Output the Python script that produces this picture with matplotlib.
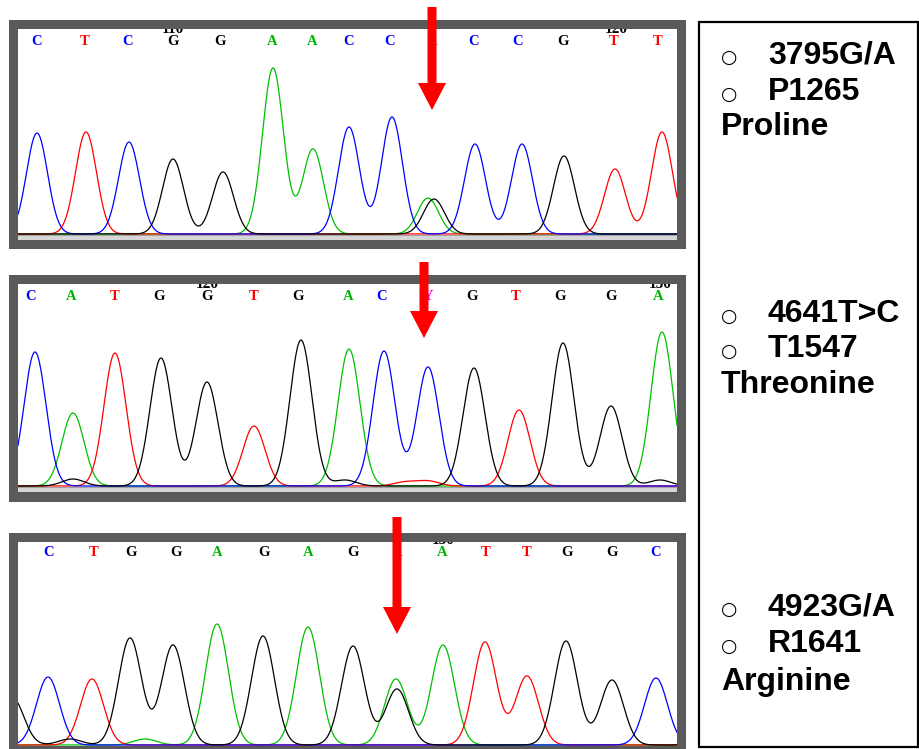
import numpy as np
import matplotlib
matplotlib.use("Agg")
import matplotlib.pyplot as plt
from matplotlib.patches import Rectangle, Polygon

W, H = 920, 749

# ---------------- data ----------------
# panel 1
p1_bases = list("CTCGGAACCRCCGTT")
p1_base_x = [37, 85, 128, 173, 220, 272, 312, 349, 390, 432, 474, 518, 563, 614, 658]
p1_peak_x = [37, 86, 129, 173, 223, 273, 313, 349, 392, 428, 434, 475, 522, 564, 615, 662]
p1_peak_h = [101, 102, 92, 75, 62, 166, 85, 107, 117, 36, 35, 90, 90, 78, 65, 102]
p1_peak_ch = list("CTCGGAACCAGCCGTT")
p1_ticks = ["110", "120"]
p1_tick_x = [173, 616]

# panel 2
p2_bases = list("CATGGTGACYGTGGA")
p2_base_x = [31, 71, 115, 159, 207, 254, 298, 348, 382, 428, 472, 516, 560, 611, 658]
p2_peak_x = [35, 73, 115, 161, 207, 254, 301, 349, 384, 428, 474, 519, 563, 611, 662,
             73, 345, 405, 428, 660]
p2_peak_h = [134, 73, 133, 128, 104, 60, 146, 137, 135, 119, 118, 76, 143, 80, 154,
             7, 6, 4, 5, 6]
p2_peak_ch = list("CATGGTGACCGTGGA" + "GGTTG")
p2_ticks = ["120", "130"]
p2_tick_x = [207, 660]

# panel 3
p3_bases = list("CTGGAGAGRATTGGC")
p3_base_x = [49, 94, 131, 176, 217, 264, 308, 353, 397, 442, 486, 527, 567, 612, 656]
p3_peak_x = [12, 48, 92, 130, 173, 217, 263, 308, 353, 396, 397, 443, 485, 527, 566, 612, 656, 712,
             70, 145]
p3_peak_h = [48, 68, 66, 107, 100, 121, 109, 118, 99, 66, 56, 100, 103, 69, 104, 65, 67, 60,
             6, 6]
p3_peak_ch = list("GCTGGAGAGAGATTGGCT" + "GA")
p3_ticks = ["130"]
p3_tick_x = [443]

notes = [
    ["3795G/A", "P1265", "Proline"],
    ["4641T>C", "T1547", "Threonine"],
    ["4923G/A", "R1641", "Arginine"],
]

# ---------------- styling ----------------
trace_col = {"A": "#00c000", "C": "#0000ff", "G": "#000000", "T": "#ff0000"}
base_col = {"A": "#00b400", "C": "#0000ff", "G": "#000000", "T": "#ff0000",
            "R": "#ff00ff", "Y": "#ff00ff"}

fig = plt.figure(figsize=(W / 100, H / 100), dpi=100)

def px_axes(x0, y0, x1, y1, z):
    return fig.add_axes([x0 / W, 1 - y1 / H, (x1 - x0) / W, (y1 - y0) / H], zorder=z)

# background overlay in pixel coordinates
bg = px_axes(0, 0, W, H, 0)
bg.set_xlim(0, W); bg.set_ylim(H, 0); bg.axis("off")

fg = px_axes(0, 0, W, H, 5)
fg.set_xlim(0, W); fg.set_ylim(H, 0); fg.axis("off")
fg.patch.set_alpha(0)

panels = [
    dict(bases=p1_bases, bx=p1_base_x, px=p1_peak_x, ph=p1_peak_h, pc=p1_peak_ch,
         ticks=p1_ticks, tx=p1_tick_x, tick_off=4, sigma=10.5,
         frame=(9, 20, 686, 249), inner=(18, 29, 677, 240), baseline=234, letter_y=42,
         strip=True, arrow=(432, 7, 83, 110), text_base=[63, 100, 135]),
    dict(bases=p2_bases, bx=p2_base_x, px=p2_peak_x, ph=p2_peak_h, pc=p2_peak_ch,
         ticks=p2_ticks, tx=p2_tick_x, tick_off=4, sigma=11.0,
         frame=(9, 275, 686, 502), inner=(18, 284, 677, 492), baseline=486, letter_y=296,
         strip=True, arrow=(424, 262, 311, 338), text_base=[322, 357, 393]),
    dict(bases=p3_bases, bx=p3_base_x, px=p3_peak_x, ph=p3_peak_h, pc=p3_peak_ch,
         ticks=p3_ticks, tx=p3_tick_x, tick_off=1.5, sigma=11.5,
         frame=(9, 533, 686, 760), inner=(18, 542, 677, 746), baseline=745, letter_y=553,
         strip=False, arrow=(397, 517, 607, 634), text_base=[615, 652, 690]),
]

for i, P in enumerate(panels):
    fx0, fy0, fx1, fy1 = P["frame"]
    bg.add_patch(Rectangle((fx0, fy0), fx1 - fx0, fy1 - fy0, facecolor="#5a5a5a",
                           edgecolor="none"))
    ix0, iy0, ix1, iy1 = P["inner"]
    ax = px_axes(ix0, iy0, ix1, iy1, 1)
    bl = P["baseline"]
    ax.set_xlim(ix0, ix1)
    ax.set_ylim(bl - iy1, bl - iy0)
    ax.axis("off")
    ax.add_patch(Rectangle((0, 0), 1, 1, transform=ax.transAxes, facecolor="white",
                           edgecolor="none", zorder=0))
    if P["strip"]:
        ax.axhspan(bl - iy1, -0.6, color="#d6d6d6", zorder=1)
        ax.axhline(-0.6, color="#9a9a9a", lw=0.6, zorder=1)

    x = np.linspace(ix0, ix1, 2000)
    for ch in ["A", "T", "C", "G"]:
        y = np.zeros_like(x)
        for cx, h, c in zip(P["px"], P["ph"], P["pc"]):
            if c == ch:
                y += h * np.exp(-(x - cx) ** 2 / (2 * P["sigma"] ** 2))
        ax.plot(x, y, color=trace_col[ch], lw=0.9, zorder=3, solid_joinstyle="round")

    top = bl - iy0
    for b, bx in zip(P["bases"], P["bx"]):
        ax.text(bx, bl - P["letter_y"], b, color=base_col[b], ha="center", va="center",
                fontsize=10.5, fontweight="bold", family="Liberation Serif", zorder=4)
    for t, tx in zip(P["ticks"], P["tx"]):
        tt = ax.text(tx, top - P["tick_off"], t, color="black", ha="center", va="baseline",
                     fontsize=11, fontweight="bold", family="Liberation Serif", zorder=4)
        tt.set_clip_box(ax.bbox)
        tt.set_clip_on(True)

    # red arrow
    ax_x, y_start, y_head, y_tip = P["arrow"]
    sw, hw = 4.5, 14
    fg.add_patch(Polygon([(ax_x - sw, y_start), (ax_x + sw, y_start), (ax_x + sw, y_head),
                          (ax_x + hw, y_head), (ax_x, y_tip), (ax_x - hw, y_head),
                          (ax_x - sw, y_head)], closed=True, facecolor="#ff0000",
                         edgecolor="none"))

    # annotation text
    tb = P["text_base"]
    for j in range(2):
        fg.text(729, tb[j], "\u25cb", ha="center", va="baseline", fontsize=13.5,
                family="DejaVu Sans", color="black")
        fg.text(768, tb[j], notes[i][j], ha="left", va="baseline", fontsize=23,
                fontweight="bold", family="Liberation Sans", color="black")
    fg.text(721, tb[2], notes[i][2], ha="left", va="baseline", fontsize=23,
            fontweight="bold", family="Liberation Sans", color="black")

# right-hand box
fg.add_patch(Rectangle((699, 22), 918 - 699, 747 - 22, facecolor="none",
                       edgecolor="black", lw=1.6))

fig.savefig("out.png", dpi=100)
